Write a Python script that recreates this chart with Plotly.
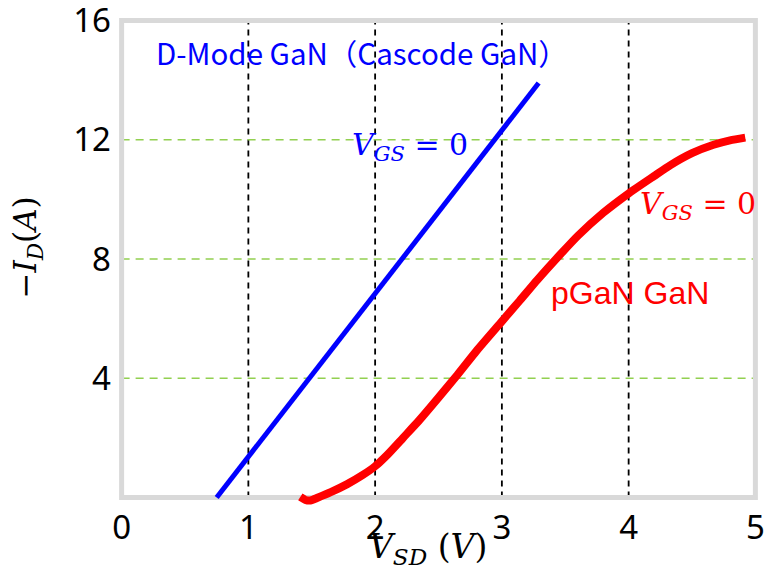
import plotly.graph_objects as go

# Data
blue_vsd = [0.75, 3.29]
blue_id = [0.0, 13.9]

red_vsd = [1.41, 1.45, 1.49, 1.55, 1.65, 1.78, 1.9, 2.0, 2.1, 2.22, 2.35, 2.49, 2.65, 2.8, 2.99,
           3.14, 3.28, 3.46, 3.6, 3.8, 4.0, 4.2, 4.33, 4.5, 4.67, 4.8, 4.92]
red_id = [0.02, -0.08, -0.1, 0.0, 0.18, 0.45, 0.75, 1.05, 1.45, 2.0, 2.6, 3.3, 4.12, 4.92, 5.86,
          6.6, 7.3, 8.15, 8.78, 9.55, 10.2, 10.78, 11.15, 11.55, 11.83, 11.98, 12.07]

x_ticks = [0, 1, 2, 3, 4, 5]
y_ticks = [4, 8, 12, 16]
v_grid = [1, 2, 3, 4]
h_grid = [4, 8, 12]

X_MIN, X_MAX = 0, 5
Y_MIN, Y_MAX = 0, 16
XPAD, YPAD = 0.06, 0.25

fig = go.Figure()
fig.add_trace(go.Scatter(x=blue_vsd, y=blue_id, mode="lines",
                         line=dict(color="#0000ff", width=5), showlegend=False))
fig.add_trace(go.Scatter(x=red_vsd, y=red_id, mode="lines",
                         line=dict(color="#ff0000", width=8, shape="spline", smoothing=0.6),
                         showlegend=False))

for v in v_grid:
    fig.add_shape(type="line", x0=v, x1=v, y0=Y_MIN, y1=Y_MAX, xref="x", yref="y",
                  line=dict(color="black", width=1.8, dash="6px,5px"), layer="below")
for h in h_grid:
    fig.add_shape(type="line", x0=X_MIN, x1=X_MAX, y0=h, y1=h, xref="x", yref="y",
                  line=dict(color="#92d050", width=1.5, dash="8px,6px"), layer="below")
fig.add_shape(type="rect", x0=X_MIN, x1=X_MAX, y0=Y_MIN, y1=Y_MAX, xref="x", yref="y",
              line=dict(color="#d9d9d9", width=5), layer="below")

tick_font = dict(family="Noto Sans, Open Sans, sans-serif", size=33, color="black")
fig.update_xaxes(range=[X_MIN - XPAD, X_MAX + XPAD], tickvals=x_ticks, ticktext=[str(t) for t in x_ticks],
                 showgrid=False, zeroline=False, showline=False, ticks="", tickfont=tick_font,
                 ticklabelstandoff=0, automargin=False, ticklabeloverflow="allow")
fig.update_yaxes(range=[Y_MIN - YPAD, Y_MAX + YPAD], tickvals=y_ticks, ticktext=[str(t) for t in y_ticks],
                 showgrid=False, zeroline=False, showline=False, ticks="", tickfont=tick_font,
                 ticklabelstandoff=2, automargin=False, ticklabeloverflow="allow")

math_font = "DejaVu Serif, Liberation Serif, serif"
annos = [
    dict(text="D-Mode GaN（Cascode GaN）", x=362, y=52, color="#0000ff",
         font="Noto Sans CJK SC, Noto Sans, sans-serif", size=29.5, angle=0),
    dict(text="<i>V</i><sub><i>GS</i></sub> = 0", x=410, y=146, color="#0000ff", font=math_font, size=30, angle=0),
    dict(text="<i>V</i><sub><i>GS</i></sub> = 0", x=698, y=205, color="#ff0000", font=math_font, size=30, angle=0),
    dict(text="pGaN GaN", x=630, y=293, color="#ff0000", font="Liberation Sans, Arial, sans-serif", size=32, angle=0),
    dict(text="<i>V</i><sub><i>SD</i></sub> (<i>V</i>)", x=428, y=549, color="black", font=math_font, size=33, angle=0),
    dict(text="−<i>I</i><sub><i>D</i></sub>(<i>A</i>)", x=28, y=247, color="black", font=math_font, size=31, angle=-90),
]
W, H = 767, 572
l, r, t, b = 114.4, 4.4, 12.5, 66.5
pw, ph = W - l - r, H - t - b
for a in annos:
    fig.add_annotation(text=a["text"], x=(a["x"] - l) / pw, y=1 - (a["y"] - t) / ph,
                       xref="paper", yref="paper", showarrow=False, textangle=a["angle"],
                       xanchor="center", yanchor="middle",
                       font=dict(family=a["font"], size=a["size"], color=a["color"]))

fig.update_layout(width=W, height=H, margin=dict(l=l, r=r, t=t, b=b, autoexpand=False),
                  plot_bgcolor="white", paper_bgcolor="white")

fig.write_html("out.html", config={"displayModeBar": False},
               post_script="document.body.style.margin='0';document.body.style.overflow='hidden';")
